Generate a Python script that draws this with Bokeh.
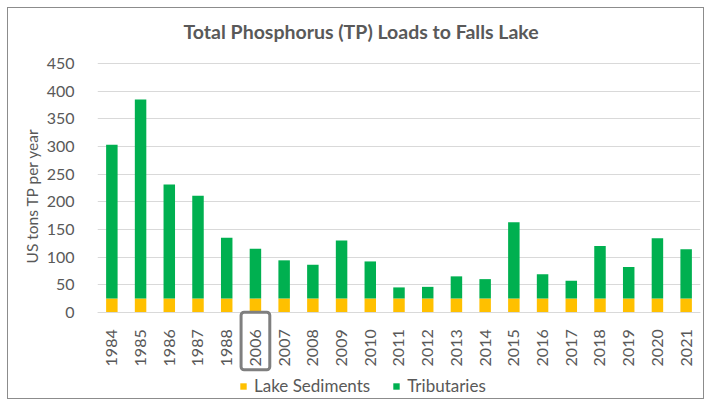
from bokeh.plotting import figure
from bokeh.models import Label, Legend, LegendItem, Title, BoxAnnotation
from bokeh.embed import file_html
from bokeh.resources import INLINE
import math

years = ["1984", "1985", "1986", "1987", "1988", "2006", "2007", "2008", "2009", "2010",
         "2011", "2012", "2013", "2014", "2015", "2016", "2017", "2018", "2019", "2020", "2021"]
lake_sediments = [25] * 21
tributaries = [278, 360, 206, 186, 110, 90, 69, 61, 105, 67,
               20, 21, 40, 35, 138, 44, 32, 95, 57, 109, 89]
series = ["Lake Sediments", "Tributaries"]
colors = ["#ffc000", "#00b050"]
y_ticks = [0, 50, 100, 150, 200, 250, 300, 350, 400, 450]
highlight_year = "2006"
title_text = "Total Phosphorus (TP) Loads to Falls Lake"
y_label = "US tons TP per year"

FONT = "Lato"
GRAY = "#595959"

data = {"years": years, "Lake Sediments": lake_sediments, "Tributaries": tributaries}

W, H = 697, 392
# frame extended above and below the data so the title, the boxed label and the legend sit inside it
p = figure(x_range=years, y_range=(-156, 537), width=W, height=H,
           output_backend="svg", toolbar_location=None,
           min_border_left=89, min_border_right=5, min_border_top=7, min_border_bottom=2)
p.styles = {"border": "1px solid #8c8c8c", "margin": "7px 0 0 7px"}
p.title.visible = False

renderers = p.vbar_stack(series, x="years", width=0.4, color=colors, source=data, line_width=0)

p.add_layout(Label(x=86, y=367, x_units="screen", y_units="screen", text=title_text,
                   text_font=FONT, text_font_size="19.5px", text_font_style="bold",
                   text_color=GRAY, text_align="left", text_baseline="middle"))

p.yaxis.ticker = y_ticks
p.yaxis.axis_line_color = None
p.yaxis.major_tick_line_color = None
p.yaxis.minor_tick_line_color = None
p.yaxis.major_label_standoff = 17
p.yaxis.major_label_text_font = FONT
p.yaxis.major_label_text_font_size = "16px"
p.yaxis.major_label_text_color = GRAY

ylab = Title(text=y_label, align="left", offset=135, standoff=5,
             text_font=FONT, text_font_size="15.5px", text_font_style="normal", text_color=GRAY)
p.add_layout(ylab, "left")

p.xaxis.fixed_location = 0
p.xaxis.axis_line_color = "#d9d9d9"
p.xaxis.major_tick_line_color = None
p.xaxis.minor_tick_line_color = None
p.xaxis.major_label_orientation = math.pi / 2
p.xaxis.major_label_standoff = 11
p.xaxis.major_label_text_font = FONT
p.xaxis.major_label_text_font_size = "16px"
p.xaxis.major_label_text_color = GRAY

p.xgrid.grid_line_color = None
p.ygrid.grid_line_color = "#d9d9d9"
p.outline_line_color = None

hx = years.index(highlight_year) + 0.5
p.add_layout(BoxAnnotation(left=hx - 0.5, right=hx + 0.5, top=0, bottom=-104,
                           fill_color=None, fill_alpha=0, line_color="#7f7f7f",
                           line_alpha=1.0, line_width=3, border_radius=3, level="overlay"))

legend = Legend(items=[LegendItem(label=s, renderers=[r]) for s, r in zip(series, renderers)],
                orientation="horizontal", location=(142, 2),
                glyph_width=8, glyph_height=8, label_standoff=7, spacing=22,
                label_text_font=FONT, label_text_font_size="17px", label_text_color=GRAY,
                padding=0, margin=0, border_line_color=None, background_fill_alpha=0)
p.add_layout(legend, "center")

open("out.html", "w").write(file_html(p, INLINE))
